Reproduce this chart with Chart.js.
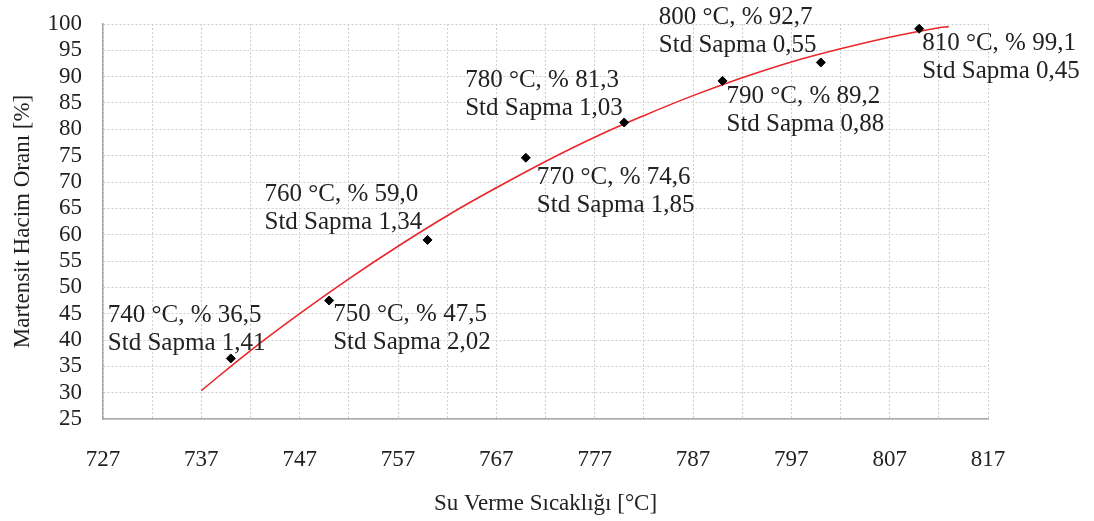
<!DOCTYPE html>
<html lang="tr">
<head>
  <meta charset="UTF-8">
  <title>Martensit Hacim Oranı</title>
  <script src="https://cdn.jsdelivr.net/npm/chart.js"></script>
  <style>
    html, body {
      margin: 0;
      padding: 0;
      background: #fff;
    }
    #wrap {
      width: 1094px;
      height: 521px;
      position: relative;
    }
  </style>
</head>
<body>

  <div id="wrap"><canvas id="martChart"></canvas></div>

  <script>
    // measured points
    const temps = [740, 750, 760, 770, 780, 790, 800, 810];
    const martensite = [36.5, 47.5, 59.0, 74.6, 81.3, 89.2, 92.7, 99.1];
    const stdDev = ['1,41', '2,02', '1,34', '1,85', '1,03', '0,88', '0,55', '0,45'];

    // trend curve
    const trendX = [737, 742, 747, 752, 757, 762, 767, 772, 777, 782, 787, 792, 797, 802, 807, 812, 813];
    const trendY = [30.4, 38.0, 45.0, 51.6, 57.8, 63.6, 68.9, 73.9, 78.5, 82.6, 86.4, 89.8, 92.8, 95.3, 97.5, 99.3, 99.5];

    // axis ticks
    const xGridTicks = [727, 732, 737, 742, 747, 752, 757, 762, 767, 772, 777, 782, 787, 792, 797, 802, 807, 812, 817];
    const xTickLabels = [727, 737, 747, 757, 767, 777, 787, 797, 807, 817];
    const yTicks = [25, 30, 35, 40, 45, 50, 55, 60, 65, 70, 75, 80, 85, 90, 95, 100];

    // label offsets from each marker, in pixels [dx, dy]
    const labelOffsets = [[-123, -43], [4, 14], [-163, -45], [11, 20], [-159, -42], [4, 16], [-162, -45], [3, 15]];

    const serif = '"Liberation Serif", "Times New Roman", serif';
    const textColor = '#222';
    const gridColor = '#cfcfcf';

    // draws the two-line text next to each point
    const pointLabels = {
      id: 'pointLabels',
      afterDraw(chart) {
        const ctx = chart.ctx;
        const xs = chart.scales.x, ys = chart.scales.y;
        ctx.save();
        ctx.font = '25px ' + serif;
        ctx.fillStyle = textColor;
        ctx.textAlign = 'left';
        ctx.textBaseline = 'middle';
        temps.forEach((t, i) => {
          const px = xs.getPixelForValue(t) + labelOffsets[i][0];
          const py = ys.getPixelForValue(martensite[i]) + labelOffsets[i][1];
          const val = martensite[i].toFixed(1).replace('.', ',');
          ctx.fillText(t + ' °C, % ' + val, px, py);
          ctx.fillText('Std Sapma ' + stdDev[i], px, py + 28);
        });
        ctx.restore();
      }
    };

    const ctx = document.getElementById('martChart').getContext('2d');
    new Chart(ctx, {
      type: 'scatter',
      data: {
        datasets: [
          {
            type: 'line',
            label: 'Trend',
            data: trendX.map((x, i) => ({ x: x, y: trendY[i] })),
            borderColor: '#e8262b',
            borderWidth: 1.6,
            pointRadius: 0,
            tension: 0.4,
            fill: false,
            order: 2
          },
          {
            label: 'Martensit',
            data: temps.map((t, i) => ({ x: t, y: martensite[i] })),
            pointStyle: 'rectRot',
            pointRadius: 4.5,
            backgroundColor: '#000',
            borderColor: '#000',
            order: 1
          }
        ]
      },
      options: {
        responsive: true,
        maintainAspectRatio: false,
        animation: false,
        layout: {
          padding: { top: 24, right: 106, left: 0, bottom: 0 }
        },
        plugins: {
          legend: { display: false },
          tooltip: { enabled: false }
        },
        scales: {
          x: {
            type: 'linear',
            min: 727,
            max: 817,
            afterFit: s => {
              s.height = 102;
              s.paddingLeft = 0;
              s.paddingRight = 0;
            },
            afterBuildTicks: s => { s.ticks = xGridTicks.map(v => ({ value: v })); },
            grid: { color: gridColor, lineWidth: 1, drawTicks: false },
            border: { color: '#a8a8a8', width: 1.5, dash: [2, 2] },
            ticks: {
              autoSkip: false,
              maxRotation: 0,
              padding: 27,
              color: textColor,
              font: { family: serif, size: 23 },
              callback: v => xTickLabels.includes(v) ? String(v) : ''
            },
            title: {
              display: true,
              text: 'Su Verme Sıcaklığı [°C]',
              color: textColor,
              font: { family: serif, size: 23 },
              padding: { top: 0, bottom: 3 }
            }
          },
          y: {
            min: 25,
            max: 100,
            afterFit: s => {
              s.width = 103;
              s.paddingTop = 0;
              s.paddingBottom = 0;
            },
            afterBuildTicks: s => { s.ticks = yTicks.map(v => ({ value: v })); },
            grid: { color: gridColor, lineWidth: 1, drawTicks: false },
            border: { color: '#a8a8a8', width: 1.5, dash: [2, 2] },
            ticks: {
              autoSkip: false,
              padding: 21,
              color: textColor,
              font: { family: serif, size: 23 }
            },
            title: {
              display: true,
              text: 'Martensit Hacim Oranı [%]',
              color: textColor,
              font: { family: serif, size: 23 },
              padding: { top: 9, bottom: 0 }
            }
          }
        }
      },
      plugins: [pointLabels]
    });
  </script>

</body>
</html>
